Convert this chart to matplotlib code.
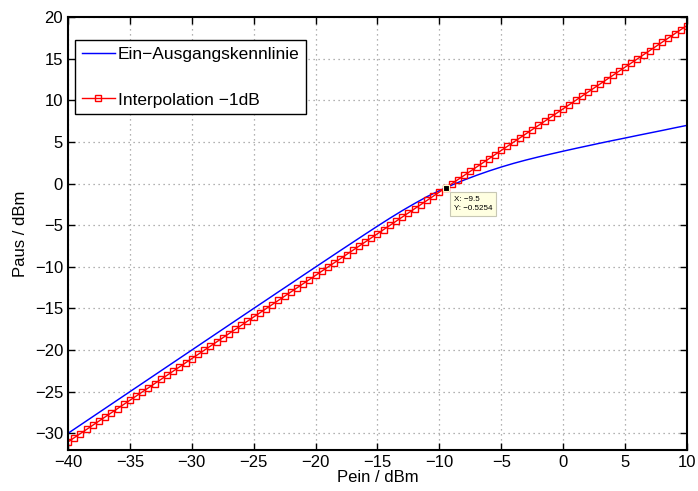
import matplotlib
matplotlib.use("Agg")
import matplotlib.pyplot as plt

plt.rcParams['font.family'] = ['Liberation Sans', 'DejaVu Sans']

# Ein-Ausgangskennlinie (1 dB Schritte)
pein = [-40, -39, -38, -37, -36, -35, -34, -33, -32, -31,
        -30, -29, -28, -27, -26, -25, -24, -23, -22, -21,
        -20, -19, -18, -17, -16, -15, -14, -13, -12, -11,
        -10, -9, -8, -7, -6, -5, -4, -3, -2, -1,
        0, 1, 2, 3, 4, 5, 6, 7, 8, 9, 10]
paus = [-30.00, -29.00, -28.00, -27.00, -26.00, -25.00, -24.00, -23.00, -22.00, -21.00,
        -20.00, -19.00, -18.00, -17.00, -16.00, -15.00, -14.01, -13.01, -12.02, -11.02,
        -10.03, -9.04, -8.05, -7.07, -6.09, -5.12, -4.17, -3.26, -2.40, -1.58,
        -0.86, -0.19, 0.42, 0.98, 1.50, 1.98, 2.42, 2.82, 3.19, 3.54,
        3.88, 4.21, 4.53, 4.85, 5.16, 5.46, 5.77, 6.07, 6.37, 6.68, 6.98]

# Interpolation -1dB (0.5 dB Schritte)
interp_x = [-40.0, -39.5, -39.0, -38.5, -38.0, -37.5, -37.0, -36.5, -36.0, -35.5,
            -35.0, -34.5, -34.0, -33.5, -33.0, -32.5, -32.0, -31.5, -31.0, -30.5,
            -30.0, -29.5, -29.0, -28.5, -28.0, -27.5, -27.0, -26.5, -26.0, -25.5,
            -25.0, -24.5, -24.0, -23.5, -23.0, -22.5, -22.0, -21.5, -21.0, -20.5,
            -20.0, -19.5, -19.0, -18.5, -18.0, -17.5, -17.0, -16.5, -16.0, -15.5,
            -15.0, -14.5, -14.0, -13.5, -13.0, -12.5, -12.0, -11.5, -11.0, -10.5,
            -10.0, -9.5, -9.0, -8.5, -8.0, -7.5, -7.0, -6.5, -6.0, -5.5,
            -5.0, -4.5, -4.0, -3.5, -3.0, -2.5, -2.0, -1.5, -1.0, -0.5,
            0.0, 0.5, 1.0, 1.5, 2.0, 2.5, 3.0, 3.5, 4.0, 4.5,
            5.0, 5.5, 6.0, 6.5, 7.0, 7.5, 8.0, 8.5, 9.0, 9.5, 10.0]
interp_y = [-31.03, -30.53, -30.03, -29.53, -29.03, -28.53, -28.03, -27.53, -27.03, -26.53,
            -26.03, -25.53, -25.03, -24.53, -24.03, -23.53, -23.03, -22.53, -22.03, -21.53,
            -21.03, -20.53, -20.03, -19.53, -19.03, -18.53, -18.03, -17.53, -17.03, -16.53,
            -16.03, -15.53, -15.03, -14.53, -14.03, -13.53, -13.03, -12.53, -12.03, -11.53,
            -11.03, -10.53, -10.03, -9.53, -9.03, -8.53, -8.03, -7.53, -7.03, -6.53,
            -6.03, -5.53, -5.03, -4.53, -4.03, -3.53, -3.03, -2.53, -2.03, -1.53,
            -1.03, -0.53, -0.03, 0.47, 0.97, 1.47, 1.97, 2.47, 2.97, 3.47,
            3.97, 4.47, 4.97, 5.47, 5.97, 6.47, 6.97, 7.47, 7.97, 8.47,
            8.97, 9.47, 9.97, 10.47, 10.97, 11.47, 11.97, 12.47, 12.97, 13.47,
            13.97, 14.47, 14.97, 15.47, 15.97, 16.47, 16.97, 17.47, 17.97, 18.47, 18.97]

# Datatip (1dB Kompressionspunkt)
tip_x = -9.5
tip_y = -0.5254

xticks = [-40, -35, -30, -25, -20, -15, -10, -5, 0, 5, 10]
yticks = [-30, -25, -20, -15, -10, -5, 0, 5, 10, 15, 20]

fig = plt.figure(figsize=(6.98, 4.91), dpi=100)
ax = fig.add_axes([0.0974, 0.0835, 0.8868, 0.882])

ax.plot(pein, paus, color='blue', lw=1.05, label='Ein\u2212Ausgangskennlinie')
ax.plot(interp_x, interp_y, color='red', lw=1.0, marker='s', markersize=4.4,
        markerfacecolor='none', markeredgecolor='red', markeredgewidth=1.0,
        label='Interpolation \u22121dB')

# datatip
ax.plot([tip_x], [tip_y], marker='s', markersize=5, color='black',
        markeredgecolor='#ffffcc', markeredgewidth=0.8, zorder=5)
ax.annotate('X: \u22129.5\nY: \u22120.5254', xy=(tip_x, tip_y), xytext=(8, -8),
            textcoords='offset pixels', ha='left', va='top', fontsize=5.8,
            linespacing=1.5,
            bbox=dict(boxstyle='square,pad=0.45', fc='#ffffe1', ec='#c8c8b4', lw=0.8),
            zorder=6)

ax.set_xlim(-40, 10)
ax.set_ylim(-32, 20)
ax.set_xticks(xticks)
ax.set_yticks(yticks)
ax.tick_params(direction='in', top=True, right=True, labelsize=12, length=5, width=1)
ax.grid(True, linestyle=(0, (1, 3)), color='0.6', linewidth=0.9)
for s in ax.spines.values():
    s.set_linewidth(1.5)

ax.set_xlabel('Pein / dBm', fontsize=12, labelpad=0)
ax.set_ylabel('Paus / dBm', fontsize=12, labelpad=5)

leg = ax.legend(loc='upper left', bbox_to_anchor=(0.0113, 0.947), borderaxespad=0,
                fontsize=12.5, fancybox=False, framealpha=1,
                edgecolor='black', handlelength=1.9, handletextpad=0.15,
                labelspacing=1.75, borderpad=0.4)
leg.get_frame().set_linewidth(1.0)

fig.savefig('out.png', dpi=100)
